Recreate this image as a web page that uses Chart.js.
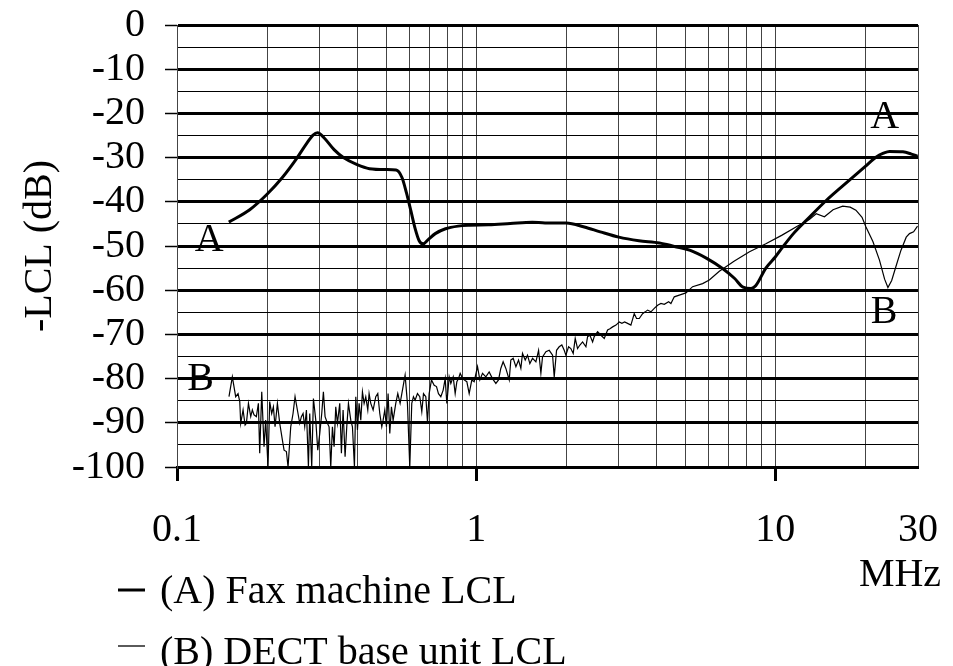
<!DOCTYPE html>
<html>
<head>
<meta charset="utf-8">
<script src="https://cdn.jsdelivr.net/npm/chart.js@4.4.0/dist/chart.umd.min.js"></script>
<style>
  body { margin: 0; background: #fff; }
  #wrap { width: 953px; height: 666px; }
</style>
</head>
<body>
<div id="wrap"><canvas id="lclChart" width="953" height="666"></canvas></div>
<script>
// x ticks on the log axis (MHz) and the ones that get a label
const freqTicks = [0.1, 0.2, 0.3, 0.4, 0.5, 0.6, 0.7, 0.8, 0.9, 1, 2, 3, 4, 5, 6, 7, 8, 9, 10, 20, 30];
const freqLabels = [0.1, 1, 10, 30];

// (A) Fax machine LCL
const faxFreq = [0.149, 0.175, 0.2, 0.225, 0.25, 0.27, 0.285, 0.295, 0.31, 0.335,
  0.36, 0.4, 0.44, 0.5, 0.54, 0.565, 0.585, 0.605, 0.625, 0.645,
  0.665, 0.69, 0.73, 0.79, 0.87, 0.95, 1.1, 1.3, 1.54, 1.7,
  2.0, 2.3, 2.6, 3.0, 3.5, 4.1, 4.6, 5.2, 5.9, 6.7,
  7.3, 7.8, 8.3, 8.6, 9.3, 10.0, 10.6, 11.5, 12.7, 14.8,
  17.7, 20.0, 21.7, 23.0, 24.1, 26.7, 28.5, 29.9];
const faxLcl = [-44.6, -41.8, -38.3, -34.5, -30.4, -27.0, -24.9, -24.4, -25.5, -28.2,
  -30.0, -31.6, -32.5, -32.7, -32.8, -34.5, -38.0, -42.0, -46.0, -48.8,
  -49.5, -48.6, -47.2, -46.1, -45.5, -45.3, -45.2, -44.9, -44.6, -44.8,
  -44.8, -45.7, -46.8, -48.0, -48.8, -49.3, -50.1, -51.0, -52.8, -55.2,
  -57.3, -59.3, -59.6, -59.0, -55.0, -52.5, -50.2, -47.2, -44.2, -39.7,
  -35.1, -32.0, -29.9, -29.0, -28.6, -28.7, -29.2, -29.7];

// (B) DECT base unit LCL
const dectFreq = [0.1492, 0.1531, 0.1571, 0.1600, 0.1621, 0.1633, 0.1663, 0.1689, 0.1706, 0.1733,
  0.1764, 0.1786, 0.1809, 0.1842, 0.1871, 0.1890, 0.1920, 0.1954, 0.1979, 0.2015,
  0.2041, 0.2073, 0.2100, 0.2127, 0.2166, 0.2205, 0.2251, 0.2280, 0.2321, 0.2351,
  0.2400, 0.2443, 0.2481, 0.2526, 0.2572, 0.2605, 0.2639, 0.2673, 0.2708, 0.2750,
  0.2778, 0.2821, 0.2858, 0.2910, 0.2955, 0.3001, 0.3047, 0.3086, 0.3126, 0.3183,
  0.3224, 0.3266, 0.3308, 0.3351, 0.3394, 0.3438, 0.3500, 0.3545, 0.3591, 0.3647,
  0.3694, 0.3742, 0.3810, 0.3859, 0.3919, 0.3960, 0.4011, 0.4062, 0.4115, 0.4168,
  0.4222, 0.4276, 0.4343, 0.4387, 0.4444, 0.4525, 0.4618, 0.4690, 0.4763, 0.4837,
  0.4887, 0.4950, 0.5014, 0.5078, 0.5144, 0.5210, 0.5278, 0.5387, 0.5471, 0.5570,
  0.5671, 0.5788, 0.5893, 0.6000, 0.6093, 0.6172, 0.6252, 0.6366, 0.6481, 0.6582,
  0.6668, 0.6789, 0.6876, 0.6965, 0.7091, 0.7239, 0.7370, 0.7483, 0.7620, 0.7759,
  0.7880, 0.7981, 0.8126, 0.8231, 0.8381, 0.8510, 0.8620, 0.8731, 0.8844, 0.8958,
  0.9120, 0.9309, 0.9478, 0.9674, 0.9849, 1.0106, 1.0290, 1.0503, 1.0775, 1.1055,
  1.134, 1.164, 1.188, 1.209, 1.231, 1.257, 1.290, 1.306, 1.330, 1.358,
  1.386, 1.411, 1.429, 1.459, 1.485, 1.512, 1.544, 1.584, 1.617, 1.646,
  1.667, 1.711, 1.755, 1.801, 1.824, 1.857, 1.895, 1.934, 1.970, 1.995,
  2.037, 2.073, 2.111, 2.144, 2.183, 2.223, 2.269, 2.328, 2.358, 2.401,
  2.451, 2.482, 2.547, 2.613, 2.681, 2.751, 2.801, 2.859, 2.934, 3.009,
  3.071, 3.135, 3.208, 3.291, 3.377, 3.438, 3.510, 3.601, 3.676, 3.742,
  3.840, 3.940, 4.043, 4.148, 4.256, 4.400, 4.479, 4.596, 4.776, 5.027,
  5.293, 5.716, 6.018, 6.5, 7.3, 8.2, 9.3, 10.5, 12.0, 13.0,
  13.7, 14.6, 15.6, 16.8, 17.8, 18.6, 19.5, 20.1, 21.2, 22.3,
  23.2, 23.8, 24.5, 25.3, 26.3, 27.4, 28.1, 29.0, 29.9];
const dectLcl = [-84.1, -79.6, -84.1, -83.4, -85.2, -90.1, -87.1, -90.5, -90.1, -85.6,
  -88.6, -87.1, -88.2, -88.6, -85.6, -96.9, -83.0, -95.4, -89.4, -100,
  -85.2, -87.9, -86.4, -90.9, -85.6, -90.1, -93.9, -96.2, -96.5, -100,
  -90.9, -87.9, -84.1, -87.1, -90.1, -88.6, -87.9, -90.9, -87.1, -100,
  -87.9, -100, -84.5, -89.4, -96.2, -92.4, -87.9, -83.0, -88.6, -90.1,
  -90.9, -100, -90.9, -95.4, -86.4, -90.1, -85.6, -96.9, -87.1, -97.7,
  -90.9, -85.6, -89.4, -90.9, -100, -84.1, -91.6, -85.6, -89.4, -83.0,
  -85.6, -84.1, -87.1, -83.4, -85.6, -87.1, -84.1, -83.4, -87.9, -90.9,
  -89.4, -87.1, -90.9, -83.4, -92.4, -86.4, -89.4, -85.6, -83.4, -85.6,
  -82.6, -79.2, -85.6, -100, -85.6, -84.1, -84.9, -83.4, -84.1, -87.5,
  -83.4, -84.1, -89.8, -83.4, -80.3, -81.5, -81.8, -83.4, -84.1, -82.6,
  -80.0, -85.6, -79.6, -81.1, -79.6, -83.4, -80.7, -80.0, -78.8, -79.6,
  -80.3, -80.7, -83.4, -80.3, -80.7, -77.3, -80.3, -78.8, -79.6, -78.5,
  -80.0, -81.1, -80.3, -77.7, -76.2, -77.7, -80.3, -75.8, -75.4, -77.3,
  -75.8, -77.7, -74.3, -75.8, -74.7, -76.6, -75.4, -76.2, -73.6, -78.8,
  -75.1, -73.9, -73.6, -74.7, -79.6, -73.6, -72.8, -72.4, -73.6, -74.7,
  -72.8, -73.2, -74.3, -70.9, -73.2, -72.4, -71.7, -72.8, -70.5, -70.2,
  -71.7, -70.5, -69.4, -70.2, -70.9, -69.0, -68.7, -68.3, -67.9, -67.2,
  -67.5, -67.2, -67.5, -67.9, -65.3, -66.4, -66.4, -65.3, -64.9, -64.5,
  -64.9, -64.1, -63.4, -63.0, -63.2, -62.6, -63.0, -61.5, -61.1, -60.6,
  -59.2, -58.5, -57.7, -55.7, -53.4, -51.3, -49.5, -47.6, -45.3, -44.0,
  -42.7, -43.4, -41.8, -41.0, -41.2, -41.9, -43.5, -45.7, -49.0, -53.2,
  -57.5, -59.4, -57.8, -54.7, -51.0, -48.0, -47.2, -46.8, -45.5];

// curve letters written inside the plot
const curveTags = ['A', 'A', 'B', 'B'];
const curveTagFreq = [0.128, 23.2, 0.120, 23.1];
const curveTagLcl = [-48.7, -20.9, -80.2, -65.0];

const serif = "'Liberation Serif', 'Times New Roman', serif";

document.addEventListener('DOMContentLoaded', function() {

    let faxData = [];
    for (let i = 0; i < faxFreq.length; i++) {
        faxData.push({ x: faxFreq[i], y: faxLcl[i] });
    }
    let dectData = [];
    for (let i = 0; i < dectFreq.length; i++) {
        dectData.push({ x: dectFreq[i], y: dectLcl[i] });
    }

    // letters, axis title, unit and the legend under the chart
    const textPlugin = {
        id: 'textPlugin',
        afterDraw: function(chart) {
            const ctx = chart.ctx;
            const xs = chart.scales.x;
            const ys = chart.scales.y;
            ctx.save();
            ctx.fillStyle = '#000';
            ctx.font = '40px ' + serif;
            ctx.textAlign = 'center';
            ctx.textBaseline = 'middle';
            for (let i = 0; i < curveTags.length; i++) {
                ctx.fillText(curveTags[i], xs.getPixelForValue(curveTagFreq[i]), ys.getPixelForValue(curveTagLcl[i]));
            }

            ctx.fillText('MHz', 900, 575);

            ctx.save();
            ctx.translate(40, 246);
            ctx.rotate(-Math.PI / 2);
            ctx.fillText('-LCL (dB)', 0, 0);
            ctx.restore();

            ctx.textAlign = 'left';
            ctx.strokeStyle = '#000';
            ctx.lineWidth = 3;
            ctx.beginPath();
            ctx.moveTo(118, 590);
            ctx.lineTo(145, 590);
            ctx.stroke();
            ctx.fillText('(A) Fax machine LCL', 160, 592);

            ctx.lineWidth = 1.3;
            ctx.beginPath();
            ctx.moveTo(118, 646);
            ctx.lineTo(145, 646);
            ctx.stroke();
            ctx.fillText('(B) DECT base unit LCL', 160, 653);
            ctx.restore();
        }
    };

    var ctx = document.getElementById('lclChart').getContext('2d');

    var chart = new Chart(ctx, {
        type: 'line',
        data: {
            datasets: [{
                label: '(A) Fax machine LCL',
                data: faxData,
                borderColor: '#000',
                borderWidth: 3,
                pointRadius: 0,
                cubicInterpolationMode: 'monotone',
                fill: false
            }, {
                label: '(B) DECT base unit LCL',
                data: dectData,
                borderColor: '#000',
                borderWidth: 1.2,
                pointRadius: 0,
                tension: 0,
                fill: false
            }]
        },
        options: {
            responsive: false,
            animation: false,
            devicePixelRatio: 1,
            layout: { padding: { top: 25, right: 35, left: 0, bottom: 0 } },
            plugins: {
                legend: { display: false },
                tooltip: { enabled: false }
            },
            scales: {
                x: {
                    type: 'logarithmic',
                    min: 0.1,
                    max: 30,
                    afterBuildTicks: function(scale) {
                        scale.ticks = freqTicks.map(function(v) { return { value: v }; });
                    },
                    afterFit: function(scale) {
                        scale.height = 199;
                        scale.paddingLeft = 0;
                        scale.paddingRight = 0;
                    },
                    ticks: {
                        autoSkip: false,
                        maxRotation: 0,
                        padding: 25,
                        color: '#000',
                        font: { family: serif, size: 40 },
                        callback: function(value) {
                            return freqLabels.indexOf(value) >= 0 ? String(value) : '';
                        }
                    },
                    grid: {
                        color: '#444',
                        lineWidth: 1,
                        tickLength: 14,
                        tickWidth: 3,
                        tickColor: function(c) {
                            return (c.tick && freqLabels.indexOf(c.tick.value) >= 0 && c.tick.value !== 30) ? '#000' : 'rgba(0,0,0,0)';
                        }
                    },
                    border: { color: '#000', width: 3 }
                },
                y: {
                    min: -100,
                    max: 0,
                    afterBuildTicks: function(scale) {
                        let t = [];
                        for (let v = -100; v <= 0; v += 5) t.push({ value: v });
                        scale.ticks = t;
                    },
                    afterFit: function(scale) {
                        scale.width = 177;
                        scale.paddingTop = 0;
                        scale.paddingBottom = 0;
                    },
                    ticks: {
                        autoSkip: false,
                        padding: 20,
                        color: '#000',
                        font: { family: serif, size: 40 },
                        callback: function(value) {
                            return value % 10 === 0 ? String(value) : '';
                        }
                    },
                    grid: {
                        color: '#000',
                        lineWidth: function(c) {
                            return (c.tick && c.tick.value % 10 === 0) ? 3 : 1;
                        },
                        tickLength: 12,
                        tickWidth: 1.5,
                        tickColor: function(c) {
                            return (c.tick && c.tick.value % 10 === 0) ? '#000' : 'rgba(0,0,0,0)';
                        }
                    },
                    border: { color: '#444', width: 1 }
                }
            }
        },
        plugins: [textPlugin]
    });
});
</script>
</body>
</html>
